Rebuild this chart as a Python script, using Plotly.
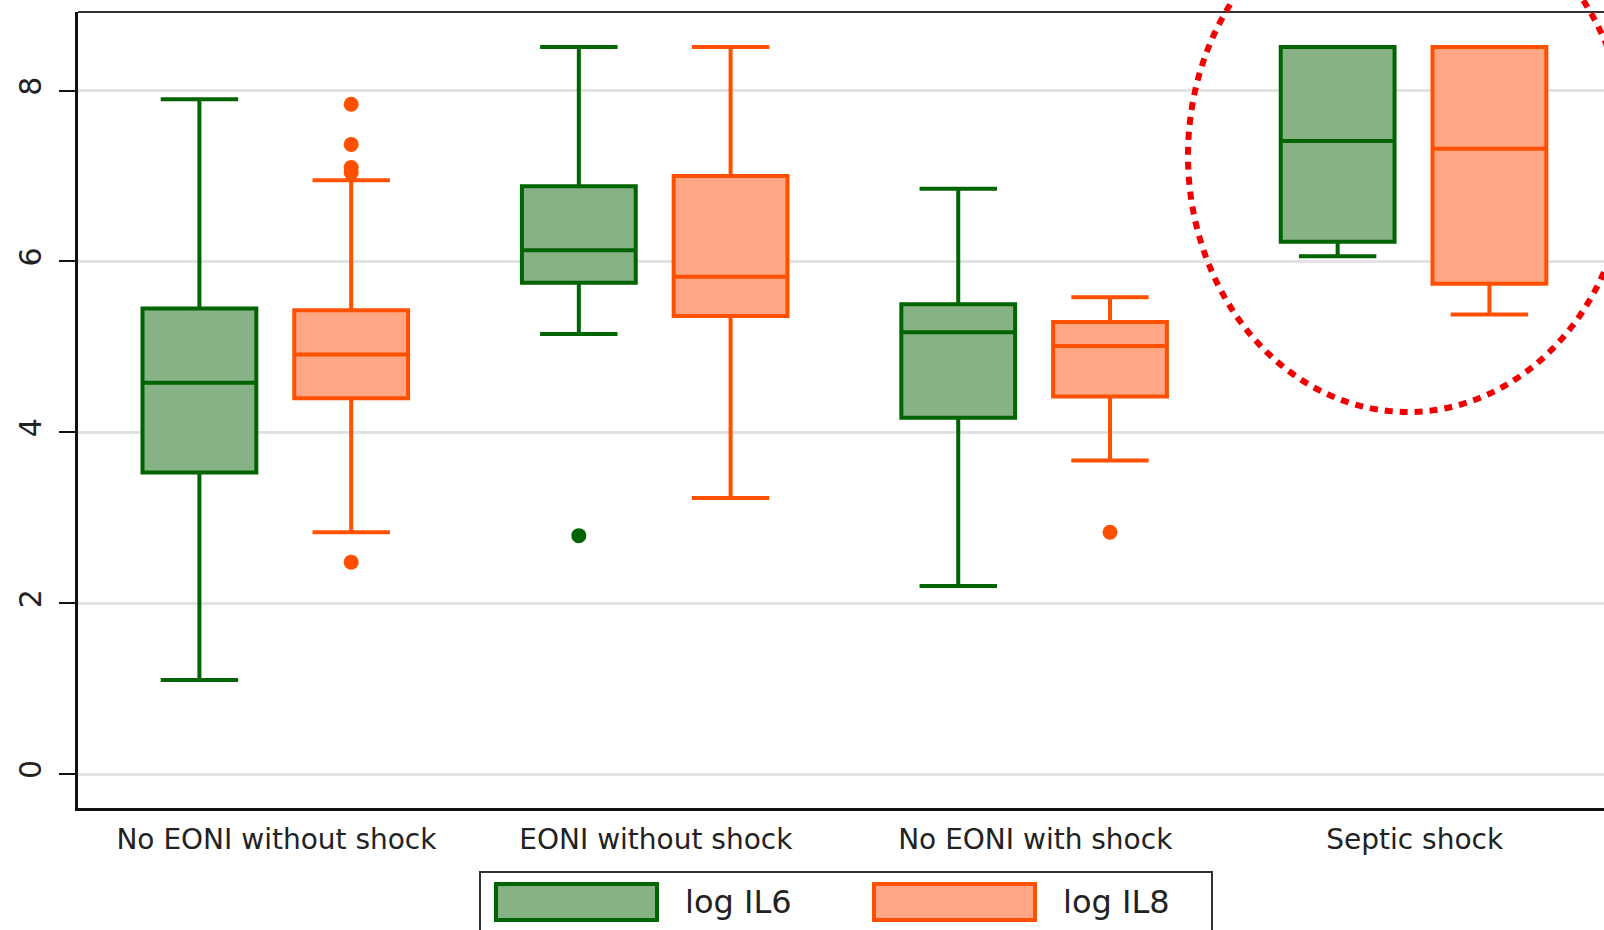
import plotly.graph_objects as go

# Groups on the x axis
categories = ["No EONI without shock", "EONI without shock", "No EONI with shock", "Septic shock"]

# log IL6 box statistics per group
il6_low = [1.10, 5.15, 2.20, 6.06]
il6_q1 = [3.53, 5.75, 4.17, 6.23]
il6_med = [4.58, 6.13, 5.17, 7.41]
il6_q3 = [5.45, 6.88, 5.50, 8.51]
il6_high = [7.90, 8.51, 6.85, 8.51]
il6_out_group = [1]
il6_out_value = [2.79]

# log IL8 box statistics per group
il8_low = [2.83, 3.23, 3.67, 5.38]
il8_q1 = [4.40, 5.36, 4.42, 5.74]
il8_med = [4.91, 5.82, 5.01, 7.32]
il8_q3 = [5.43, 7.00, 5.29, 8.51]
il8_high = [6.95, 8.51, 5.58, 8.51]
il8_out_group = [0, 0, 0, 0, 0, 2]
il8_out_value = [7.84, 7.37, 7.10, 7.04, 2.48, 2.83]

y_ticks = [0, 2, 4, 6, 8]

GREEN_LINE = "#006400"
GREEN_FILL = "#86b286"
ORANGE_LINE = "#ff5000"
ORANGE_FILL = "#ffa685"
FONT = "DejaVu Sans"

W, H = 1604, 930
M_L, M_R, M_T, M_B = 78, 0, 12, 122
PLOT_W = W - M_L - M_R
PLOT_H = H - M_T - M_B


def px_x(px):
    return (px - M_L) / PLOT_W


def px_y(py):
    return (H - M_B - py) / PLOT_H


pos = list(range(len(categories)))
il6_x = [p - 0.203 for p in pos]
il8_x = [p + 0.197 for p in pos]
box_w = 0.30

fig = go.Figure()

fig.add_trace(go.Box(
    x=il6_x, q1=il6_q1, median=il6_med, q3=il6_q3,
    lowerfence=il6_low, upperfence=il6_high,
    width=box_w, whiskerwidth=0.68, boxpoints=False,
    fillcolor=GREEN_FILL, line=dict(color=GREEN_LINE, width=4),
    name="log IL6", showlegend=False, hoverinfo="skip",
))
fig.add_trace(go.Box(
    x=il8_x, q1=il8_q1, median=il8_med, q3=il8_q3,
    lowerfence=il8_low, upperfence=il8_high,
    width=box_w, whiskerwidth=0.68, boxpoints=False,
    fillcolor=ORANGE_FILL, line=dict(color=ORANGE_LINE, width=4),
    name="log IL8", showlegend=False, hoverinfo="skip",
))

# Outside values
fig.add_trace(go.Scatter(
    x=[il6_x[g] for g in il6_out_group], y=il6_out_value, mode="markers",
    marker=dict(color=GREEN_LINE, size=15, line=dict(width=0)),
    showlegend=False, hoverinfo="skip",
))
fig.add_trace(go.Scatter(
    x=[il8_x[g] for g in il8_out_group], y=il8_out_value, mode="markers",
    marker=dict(color=ORANGE_LINE, size=15, line=dict(width=0)),
    showlegend=False, hoverinfo="skip",
))

shapes = [
    # top frame line
    dict(type="line", xref="paper", yref="paper", x0=0, x1=1, y0=1, y1=1,
         line=dict(color="#333333", width=2)),
    # legend frame
    dict(type="rect", xref="paper", yref="paper",
         x0=px_x(480), x1=px_x(1212), y0=px_y(972), y1=px_y(872),
         line=dict(color="#333333", width=2), fillcolor="white"),
    dict(type="rect", xref="paper", yref="paper",
         x0=px_x(496), x1=px_x(657), y0=px_y(920), y1=px_y(884),
         line=dict(color=GREEN_LINE, width=4), fillcolor=GREEN_FILL),
    dict(type="rect", xref="paper", yref="paper",
         x0=px_x(874), x1=px_x(1035), y0=px_y(920), y1=px_y(884),
         line=dict(color=ORANGE_LINE, width=4), fillcolor=ORANGE_FILL),
    # dotted highlight around septic shock group
    dict(type="circle", xref="paper", yref="paper",
         x0=px_x(1188), x1=px_x(1628), y0=px_y(412), y1=px_y(-101),
         line=dict(color="#f00000", width=6, dash="8px,7px")),
]

annotations = [
    dict(text="log IL6", xref="paper", yref="paper", x=px_x(683), y=px_y(902),
         xanchor="left", yanchor="middle", showarrow=False,
         font=dict(family=FONT, size=32, color="#222222")),
    dict(text="log IL8", xref="paper", yref="paper", x=px_x(1061), y=px_y(902),
         xanchor="left", yanchor="middle", showarrow=False,
         font=dict(family=FONT, size=32, color="#222222")),
]

fig.update_layout(
    width=W, height=H,
    margin=dict(l=M_L, r=M_R, t=M_T, b=M_B, pad=0),
    paper_bgcolor="white", plot_bgcolor="white",
    boxmode="overlay",
    shapes=shapes, annotations=annotations,
    showlegend=False,
    xaxis=dict(
        range=[-0.523, 3.499], tickvals=pos, ticktext=categories,
        showgrid=False, zeroline=False, ticks="",
        showline=True, linecolor="#111111", linewidth=3,
        tickfont=dict(family=FONT, size=28, color="#222222"),
        ticklabelstandoff=4,
    ),
    yaxis=dict(
        range=[-0.398, 8.92], tickvals=y_ticks, tickangle=-90,
        ticks="outside", ticklen=16, tickwidth=2, tickcolor="#111111",
        showgrid=True, gridcolor="#e2e2e2", gridwidth=2.5, zeroline=False,
        showline=True, linecolor="#111111", linewidth=3,
        tickfont=dict(family=FONT, size=30, color="#222222"),
        ticklabelstandoff=6,
    ),
)

fig.write_html("out.html")
